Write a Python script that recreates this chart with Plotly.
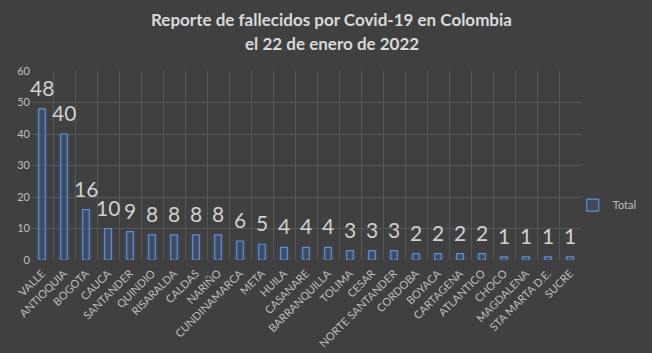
import plotly.graph_objects as go

categorias = ["VALLE", "ANTIOQUIA", "BOGOTA", "CAUCA", "SANTANDER", "QUINDIO", "RISARALDA",
              "CALDAS", "NARIÑO", "CUNDINAMARCA", "META", "HUILA", "CASANARE", "BARRANQUILLA",
              "TOLIMA", "CESAR", "NORTE SANTANDER", "CORDOBA", "BOYACA", "CARTAGENA",
              "ATLANTICO", "CHOCO", "MAGDALENA", "STA MARTA D.E.", "SUCRE"]
fallecidos = [48, 40, 16, 10, 9, 8, 8, 8, 8, 6, 5, 4, 4, 4, 3, 3, 3, 2, 2, 2, 2, 1, 1, 1, 1]
yticks = [0, 10, 20, 30, 40, 50, 60]
titulo = ["Reporte de fallecidos por Covid-19 en Colombia", "el 22 de enero de 2022"]

BG = "#404040"
FONT = "Lato"

fig = go.Figure()
# glow
fig.add_trace(go.Bar(x=categorias, y=fallecidos, width=0.5,
                     marker=dict(color="rgba(70,120,210,0.18)", line=dict(width=0)),
                     showlegend=False, hoverinfo="skip"))
fig.add_trace(go.Bar(x=categorias, y=fallecidos, width=0.3, name="Total",
                     marker=dict(color="rgba(60,80,110,0.55)", line=dict(color="#5b8fd6", width=1.2))))

annotations = []
for c, v in zip(categorias, fallecidos):
    annotations.append(dict(x=c, y=v, text=str(v), showarrow=False, yanchor="bottom", yshift=7,
                            font=dict(family=FONT, size=21, color="#d0d0d0")))
for i, (t, yy) in enumerate(zip(titulo, [1.27, 1.145])):
    annotations.append(dict(xref="paper", yref="paper", x=0.547, y=yy, text="<b>" + t + "</b>",
                            showarrow=False, xanchor="center", yanchor="middle",
                            font=dict(family=FONT, size=17, color="#d9d9d9")))

fig.update_layout(
    width=652, height=353,
    paper_bgcolor=BG, plot_bgcolor=BG,
    barmode="overlay",
    margin=dict(l=31, r=71, t=71, b=93, autoexpand=False),
    font=dict(family=FONT, color="#bfbfbf"),
    xaxis=dict(tickangle=-45, tickfont=dict(size=11, color="#bfbfbf"), showgrid=True,
               gridcolor="#575757", tickson="boundaries", ticks="", showline=False,
               ticklabelstandoff=4, automargin=False,
               range=[-0.5, len(categorias) - 0.5]),
    yaxis=dict(range=[0, 60], tickvals=yticks, tickfont=dict(size=11, color="#bfbfbf"),
               gridcolor="#575757", zeroline=False, showline=False, ticklen=0, automargin=False),
    legend=dict(x=0.985, y=0.29, xanchor="left", yanchor="middle", bgcolor="rgba(0,0,0,0)",
                font=dict(size=11, color="#bfbfbf"), itemwidth=30),
    annotations=annotations,
)
fig.write_html("out.html")
